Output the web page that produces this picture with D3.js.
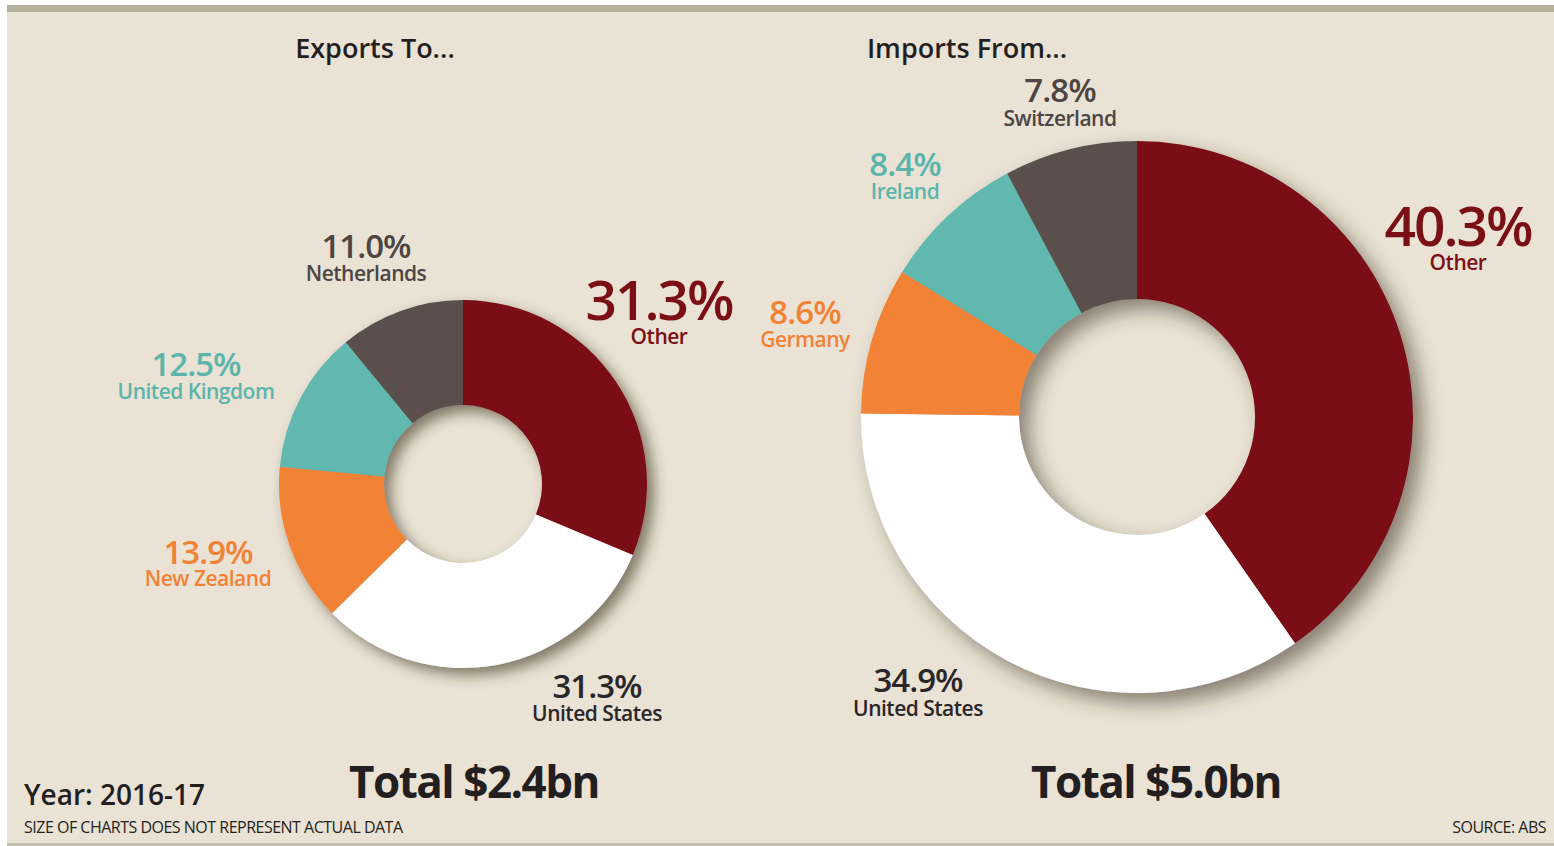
<!DOCTYPE html>
<html>
<head>
<meta charset="utf-8">
<script src="https://cdn.jsdelivr.net/npm/d3@7"></script>
<style>
html,body{margin:0;padding:0;background:#ffffff;}
svg{display:block;}
text{font-family:"Open Sans","Noto Sans",sans-serif;}
</style>
</head>
<body>
<svg id="chart" width="1554" height="846"></svg>
<script>
// ---- data ----
const exportCountries = ["Other", "United States", "New Zealand", "United Kingdom", "Netherlands"];
const exportValues = [31.3, 31.3, 13.9, 12.5, 11.0];
const importCountries = ["Other", "United States", "Germany", "Ireland", "Switzerland"];
const importValues = [40.3, 34.9, 8.6, 8.4, 7.8];
const exportTotal = "Total $2.4bn";
const importTotal = "Total $5.0bn";

// ---- styling / layout (kept separate from data) ----
const sliceColors = ["#7a1015", "#ffffff", "#f28235", "#60b8ae", "#5a4f4c"];
const labelColors = ["#7a1015", "#2b2627", "#f28235", "#5bb5ab", "#4e4543"];
const W = 1554, H = 846;

const svg = d3.select("#chart");
const defs = svg.append("defs");
function shadow(id, dx, dy, sd, op){
  const f = defs.append("filter").attr("id", id)
    .attr("x", "-30%").attr("y", "-30%").attr("width", "160%").attr("height", "160%");
  f.append("feDropShadow").attr("dx", dx).attr("dy", dy).attr("stdDeviation", sd)
    .attr("flood-color", "#3a3020").attr("flood-opacity", op);
}
shadow("sh1", 7, 7, 7, 0.6);
shadow("sh2", 10, 10, 10, 0.55);

// background
svg.append("rect").attr("x", 7).attr("y", 5).attr("width", W - 7).attr("height", H - 7).attr("fill", "#e9e2d5");
svg.append("rect").attr("x", 7).attr("y", 5).attr("width", W - 7).attr("height", 7).attr("fill", "#b6b19c");
svg.append("rect").attr("x", 7).attr("y", 843).attr("width", W - 7).attr("height", 3).attr("fill", "#c4bfae");

const pie = d3.pie().sort(null).value(d => d);

function donut(values, cx, cy, rOuter, rInner, filterId){
  const arc = d3.arc().innerRadius(rInner).outerRadius(rOuter);
  const g = svg.append("g").attr("transform", `translate(${cx},${cy})`)
    .attr("filter", `url(#${filterId})`);
  g.selectAll("path").data(pie(values)).join("path")
    .attr("d", arc)
    .attr("fill", (d, i) => sliceColors[i]);
}

donut(exportValues, 463, 484, 184, 79, "sh1");
donut(importValues, 1137, 417, 276, 118, "sh2");

// label layout: [x, pctBaseline, nameBaseline, pctSize, nameSize]
const exportLabelPos = [
  [659, 320, 344, 55, 21],
  [597, 698, 721, 33, 21],
  [208, 564, 586, 33, 21],
  [196, 376, 399, 33, 21],
  [366, 258, 281, 33, 21]
];
const importLabelPos = [
  [1458, 246, 270, 55, 21],
  [918, 692, 716, 33, 21],
  [805, 324, 347, 33, 21],
  [905, 176, 199, 33, 21],
  [1060, 102, 126, 33, 21]
];

function labels(names, values, pos){
  const g = svg.append("g");
  names.forEach((n, i) => {
    const [x, y1, y2, s1, s2] = pos[i];
    const t = g.append("text").attr("x", x).attr("y", y1).attr("text-anchor", "middle")
      .attr("font-weight", 600).attr("fill", labelColors[i]);
    t.append("tspan").attr("x", x).attr("y", y1).attr("font-size", s1)
      .attr("letter-spacing", s1 > 40 ? -2 : -1)
      .text(values[i].toFixed(1) + "%");
    t.append("tspan").attr("x", x).attr("y", y2).attr("font-size", s2)
      .attr("letter-spacing", -0.5)
      .text(n);
  });
}
labels(exportCountries, exportValues, exportLabelPos);
labels(importCountries, importValues, importLabelPos);

// titles
svg.append("text").attr("x", 375).attr("y", 58).attr("text-anchor", "middle")
  .attr("font-size", 27).attr("font-weight", 600).attr("fill", "#231f20").text("Exports To...");
svg.append("text").attr("x", 967).attr("y", 58).attr("text-anchor", "middle")
  .attr("font-size", 27).attr("font-weight", 600).attr("fill", "#231f20").text("Imports From...");

// totals
svg.append("text").attr("x", 474).attr("y", 798).attr("text-anchor", "middle")
  .attr("font-size", 44).attr("font-weight", 700).attr("letter-spacing", -1.5).attr("fill", "#231f20").text(exportTotal);
svg.append("text").attr("x", 1156).attr("y", 798).attr("text-anchor", "middle")
  .attr("font-size", 44).attr("font-weight", 700).attr("letter-spacing", -1.5).attr("fill", "#231f20").text(importTotal);

// footer
svg.append("text").attr("x", 24).attr("y", 805)
  .attr("font-size", 28).attr("font-weight", 600).attr("letter-spacing", 0).attr("fill", "#231f20").text("Year: 2016-17");
svg.append("text").attr("x", 24).attr("y", 833)
  .attr("font-size", 16).attr("letter-spacing", -0.5).attr("fill", "#231f20").text("SIZE OF CHARTS DOES NOT REPRESENT ACTUAL DATA");
svg.append("text").attr("x", 1546).attr("y", 833).attr("text-anchor", "end")
  .attr("font-size", 16).attr("letter-spacing", -0.5).attr("fill", "#231f20").text("SOURCE: ABS");
</script>
</body>
</html>
